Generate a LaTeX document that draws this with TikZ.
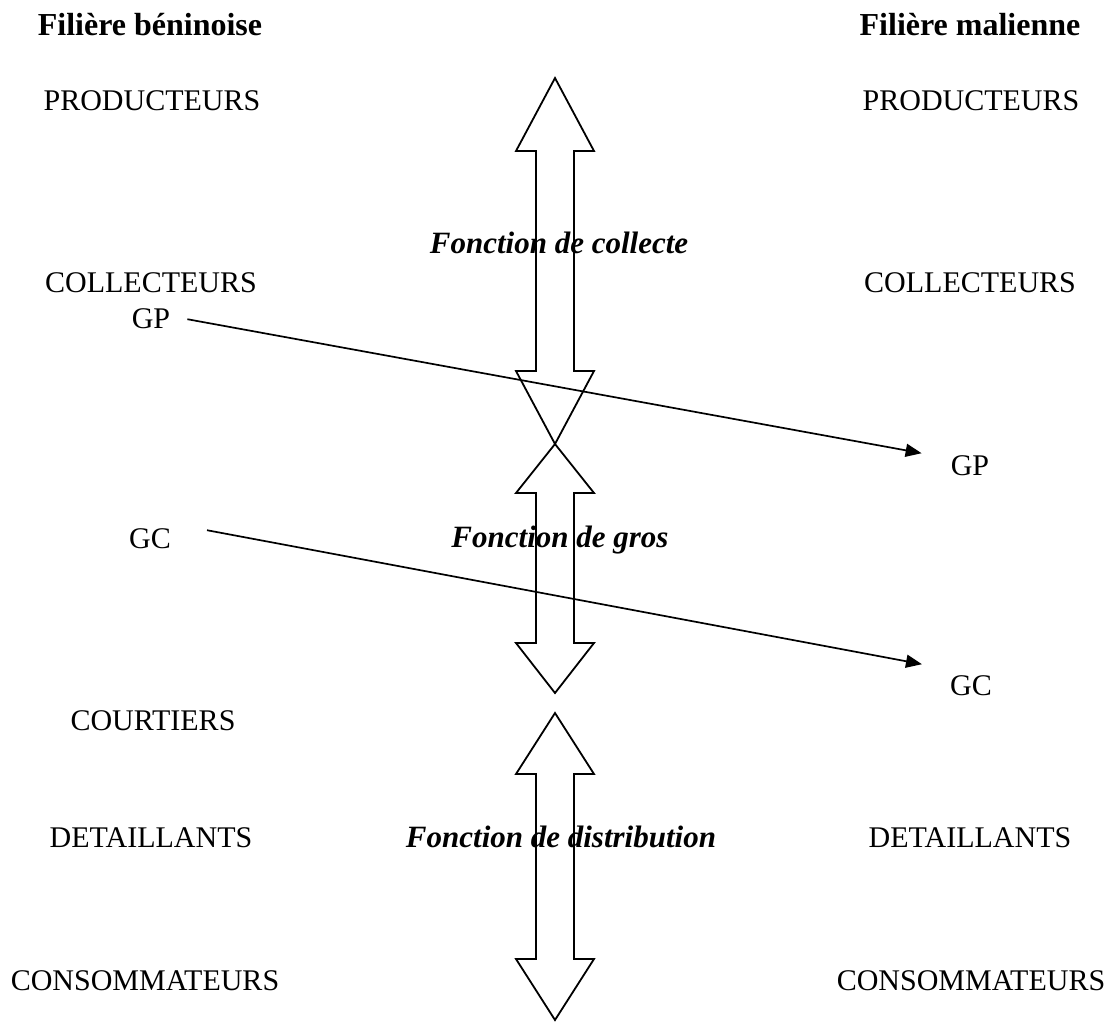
\documentclass[tikz,border=0pt]{standalone}
\usepackage{fontspec}
\setmainfont{Liberation Serif}
\usetikzlibrary{arrows.meta,calc}
\begin{document}
\begin{tikzpicture}[x=1pt,y=-1pt,
  lbl/.style={inner sep=0pt,anchor=base,font=\fontsize{30}{34}\selectfont},
  head/.style={lbl,font=\fontsize{32}{36}\selectfont\bfseries},
  func/.style={lbl,font=\fontsize{31}{35}\selectfont\bfseries\itshape},
  blockarrow/.style={draw=black,line width=1.8pt,fill=white,line join=miter},
  conn/.style={line width=1.7pt,-{Triangle[length=16pt,width=13pt]}}]
\useasboundingbox (0,0) rectangle (1114,1021);

% double block arrows in the middle column (x, tip, base, base, tip)
\draw[blockarrow] (555,78) -- (594,151) -- (574,151) -- (574,371) -- (594,371)
  -- (555,444) -- (516,371) -- (536,371) -- (536,151) -- (516,151) -- cycle;
\draw[blockarrow,fill=none] (555,444) -- (594,493) -- (574,493) -- (574,643) -- (594,643)
  -- (555,693) -- (516,643) -- (536,643) -- (536,493) -- (516,493) -- cycle;
\draw[blockarrow] (555,713) -- (594,774) -- (574,774) -- (574,959) -- (594,959)
  -- (555,1020) -- (516,959) -- (536,959) -- (536,774) -- (516,774) -- cycle;

% column headings
\node[head] (hb) at (150,35) {Filière béninoise};
\node[head] (hm) at (970,35) {Filière malienne};

% Beninese chain
\node[lbl] (prodB) at (152,110) {PRODUCTEURS};
\node[lbl] (collB) at (151,292) {COLLECTEURS};
\node[lbl] (gpB)   at (151,328) {GP};
\node[lbl] (gcB)   at (150,548) {GC};
\node[lbl] (courB) at (153,730) {COURTIERS};
\node[lbl] (detB)  at (151,847) {DETAILLANTS};
\node[lbl] (consB) at (145,990) {CONSOMMATEURS};

% Malian chain
\node[lbl] (prodM) at (971,110) {PRODUCTEURS};
\node[lbl] (collM) at (970,292) {COLLECTEURS};
\node[lbl] (gpM)   at (970,475) {GP};
\node[lbl] (gcM)   at (971,695) {GC};
\node[lbl] (detM)  at (970,847) {DETAILLANTS};
\node[lbl] (consM) at (971,990) {CONSOMMATEURS};

% functions
\node[func] (fcol)  at (559,253) {Fonction de collecte};
\node[func] (fgros) at (560,547) {Fonction de gros};
\node[func] (fdist) at (561,847) {Fonction de distribution};

% links between the two chains
\draw[conn] ($(gpB.east)+(17,1)$) -- ($(gpM.west)+(-29,-12)$);
\draw[conn] ($(gcB.east)+(36,-8)$) -- ($(gcM.west)+(-28,-21)$);
\end{tikzpicture}
\end{document}
